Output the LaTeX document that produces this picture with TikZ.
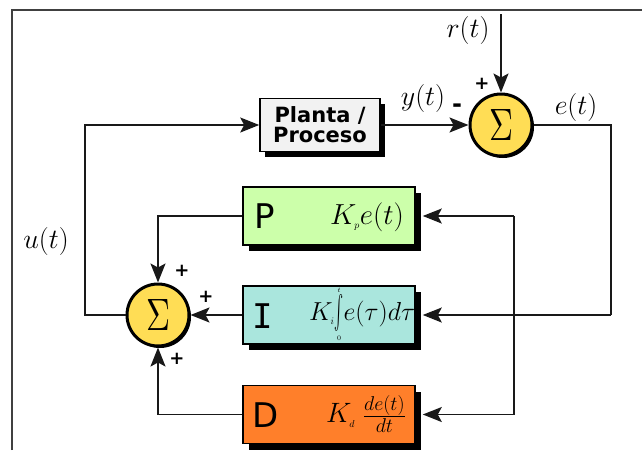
\RequirePackage{fix-cm}
\documentclass[tikz,border=0pt]{standalone}
\usepackage{graphicx}
\usepackage{fontspec}
\newfontfamily\dejavu{DejaVu Sans}
\newfontfamily\dejavumono{DejaVu Sans Mono}
\usetikzlibrary{arrows.meta,shadows}
\definecolor{pgreen}{HTML}{CCFFAA}
\definecolor{iteal}{HTML}{AAE6DD}
\definecolor{dorange}{HTML}{FF7F2A}
\definecolor{plantgray}{HTML}{F2F2F2}
\definecolor{sumyellow}{HTML}{FFDD55}
\newcommand{\tinyidx}[1]{\hbox{\fontsize{10}{10}\selectfont$#1$}}
\newcommand{\sized}[2]{\hbox{\fontsize{#1}{#1}\selectfont$#2$}}
\begin{document}
\begin{tikzpicture}[x=1pt,y=-1pt,
  blockbox/.style={draw=black, line width=1.6pt, minimum width=172pt, minimum height=58pt,
    inner sep=0pt, drop shadow={shadow xshift=6pt, shadow yshift=-6pt, fill=black, opacity=1}},
  plantbox/.style={draw=black, line width=1.6pt, fill=plantgray, minimum width=120pt, minimum height=53pt,
    inner sep=0pt, align=center, font=\dejavu\bfseries\fontsize{21}{20}\selectfont,
    drop shadow={shadow xshift=5pt, shadow yshift=-5pt, fill=black, opacity=1}},
  sumnode/.style={circle, draw=black, line width=3pt, fill=sumyellow, minimum size=62pt, inner sep=0pt,
    drop shadow={shadow xshift=2pt, shadow yshift=-2pt, fill=black, opacity=1}},
  arr/.style={draw=black!90, line width=1.8pt, -{Stealth[length=19pt,width=15pt,inset=4pt]}},
  wire/.style={draw=black!90, line width=1.8pt},
  frameline/.style={draw=black!75, line width=1.5pt},
  mathlbl/.style={font=\fontsize{28}{28}\selectfont, inner sep=0pt},
  sign/.style={font=\dejavu\bfseries\fontsize{18}{18}\selectfont, inner sep=0pt},
  letter/.style={font=\dejavu\fontsize{34}{34}\selectfont, inner sep=0pt, anchor=west},
]
\useasboundingbox (0,0) rectangle (642,450);
\draw[frameline] (12,450) -- (12,10) -- (642,10);

% blocks
\node[plantbox] (plant) at (320,125) {Planta /\\Proceso};
\node[sumnode] (s1) at (501,125) {\resizebox{24pt}{31pt}{$\Sigma$}};
\node[blockbox, fill=pgreen] (P) at (329,216) {};
\node[blockbox, fill=iteal] (I) at (329,315) {};
\node[blockbox, fill=dorange] (D) at (329,414.5) {};
\node[sumnode] (s2) at (158,315) {\resizebox{24pt}{31pt}{$\Sigma$}};

% letters and formulas
\node[letter] (Pl) at (254,216) {P};
\node[letter, font=\dejavumono\fontsize{34}{34}\selectfont] (Il) at (252,316) {I};
\node[letter] (Dl) at (252,415) {D};
\node[mathlbl, font=\fontsize{29}{29}\selectfont] (Pf) at (367,217) {$K_{\tinyidx{p}}e(t)$};
\node[mathlbl, font=\fontsize{26}{26}\selectfont] (If) at (362,314)
  {$K_{\tinyidx{i}}\!\mathop{\vcenter{\hbox{\resizebox{9pt}{40pt}{$\int$}}}}\limits^{\hbox{\fontsize{7}{7}\selectfont$t$}}_{\hbox{\fontsize{7}{7}\selectfont$0$}}\!e(\tau)d\tau$};
\node[mathlbl, font=\fontsize{28}{28}\selectfont] (Df) at (366,414)
  {$K_{\tinyidx{d}}\;\frac{\sized{20}{de(t)}}{\sized{20}{dt}}$};

% labels
\node[mathlbl] (rl) at (468,30) {$r(t)$};
\node[mathlbl] (yl) at (423,98) {$y(t)$};
\node[mathlbl] (el) at (576,107) {$e(t)$};
\node[mathlbl] (ul) at (46,241) {$u(t)$};
\node[sign] (p1) at (482,84) {+};
\node[sign, font=\dejavu\bfseries\fontsize{24}{24}\selectfont] (m1) at (457,108) {-};
\node[sign] (p2) at (182,271) {+};
\node[sign] (p3) at (206,297) {+};
\node[sign] (p4) at (177,359) {+};

% coordinates
\coordinate (rtop) at (501,14);
\coordinate (eright) at (611,125);
\coordinate (eI) at (611,315);
\coordinate (dtop) at (514,216);
\coordinate (dbot) at (514,414.5);
\coordinate (uleft) at (85,315);
\coordinate (uup) at (85,125);

% connectors
\draw[arr] (rtop) -- (s1.north);
\draw[arr] (plant.east) -- (s1.west);
\draw[wire] (s1.east) -- (eright) -- (eI);
\draw[arr] (eI) -- ([xshift=7pt]I.east);
\draw[arr] (dtop) -- ([xshift=7pt]P.east);
\draw[arr] (dtop) -- (dbot) -- ([xshift=7pt]D.east);
\draw[arr] (P.west) -| (s2.north);
\draw[arr] (I.west) -- (s2.east);
\draw[arr] (D.west) -| (s2.south);
\draw[arr] (s2.west) -- (uleft) -- (uup) -- (plant.west |- uup);
\end{tikzpicture}
\end{document}
